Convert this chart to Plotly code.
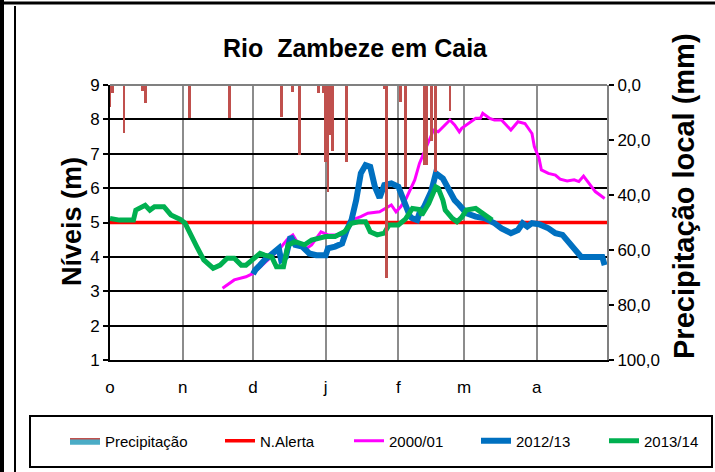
import plotly.graph_objects as go

# ---------------- data ----------------
month_ticks = ["2012-10-01", "2012-11-01", "2012-12-01", "2013-01-01",
               "2013-02-01", "2013-03-01", "2013-04-01"]
month_labels = ["o", "n", "d", "j", "f", "m", "a"]

level_ticks = [1, 2, 3, 4, 5, 6, 7, 8, 9]
precip_ticks = [0, 20, 40, 60, 80, 100]
precip_tick_labels = ["0,0", "20,0", "40,0", "60,0", "80,0", "100,0"]

precip_dates = ["2012-10-01", "2012-10-02", "2012-10-07", "2012-10-15", "2012-10-16",
                "2012-11-04", "2012-11-21", "2012-12-13", "2012-12-18", "2012-12-21",
                "2012-12-29", "2012-12-31", "2013-01-01", "2013-01-02", "2013-01-03",
                "2013-01-04", "2013-01-10", "2013-01-26", "2013-01-27", "2013-02-02",
                "2013-02-04", "2013-02-12", "2013-02-13", "2013-02-15", "2013-02-17",
                "2013-02-23"]
precip_mm = [8, 3, 17.5, 2, 6.5,
             12, 12, 11.5, 2.5, 25.5,
             3, 3, 28, 39, 18,
             24, 28, 1.5, 70, 6,
             37, 29, 29, 20.5, 31.5,
             9.5]

alert_dates = ["2012-10-01", "2013-05-01"]
alert_level = [5, 5]

s2000_dates = ["2012-11-18", "2012-11-23", "2012-11-28", "2012-12-01", "2012-12-04",
               "2012-12-08", "2012-12-12", "2012-12-16", "2012-12-18", "2012-12-21",
               "2012-12-23", "2012-12-26", "2012-12-30", "2013-01-02", "2013-01-06",
               "2013-01-09", "2013-01-12", "2013-01-16", "2013-01-19", "2013-01-24",
               "2013-01-29", "2013-01-31", "2013-02-02", "2013-02-04", "2013-02-06",
               "2013-02-08", "2013-02-10", "2013-02-12", "2013-02-14", "2013-02-16",
               "2013-02-18", "2013-02-21", "2013-02-23", "2013-02-25", "2013-02-27",
               "2013-02-28", "2013-03-03", "2013-03-06", "2013-03-08", "2013-03-09",
               "2013-03-12", "2013-03-14", "2013-03-17", "2013-03-21", "2013-03-24",
               "2013-03-27", "2013-03-30", "2013-03-31", "2013-04-02", "2013-04-03",
               "2013-04-06", "2013-04-09", "2013-04-11", "2013-04-14", "2013-04-17",
               "2013-04-19", "2013-04-21", "2013-04-24", "2013-04-26", "2013-04-30"]
s2000_level = [3.09, 3.33, 3.42, 3.52, 3.70,
               3.95, 4.20, 4.54, 4.64, 4.30,
               4.20, 4.35, 4.73, 4.64, 4.64,
               4.59, 5.07, 5.17, 5.27, 5.31,
               5.51, 5.31, 5.46, 5.65, 5.94,
               6.24, 6.72, 7.06, 7.40, 7.69,
               7.64, 7.84, 7.98, 7.84, 7.64,
               7.74, 7.88, 8.03, 8.03, 8.18,
               8.03, 7.98, 7.98, 7.69, 7.93,
               7.88, 7.59, 7.21, 6.87, 6.53,
               6.43, 6.38, 6.26, 6.21, 6.24,
               6.19, 6.35, 6.09, 5.90, 5.70]

s2012_dates = ["2012-12-01", "2012-12-02", "2012-12-04", "2012-12-06", "2012-12-12",
               "2012-12-13", "2012-12-15", "2012-12-17", "2012-12-19", "2012-12-22",
               "2012-12-25", "2012-12-28", "2013-01-01", "2013-01-02", "2013-01-05",
               "2013-01-08", "2013-01-10", "2013-01-12", "2013-01-14", "2013-01-16",
               "2013-01-18", "2013-01-20", "2013-01-22", "2013-01-24", "2013-01-26",
               "2013-01-29", "2013-02-01", "2013-02-03", "2013-02-05", "2013-02-06",
               "2013-02-07", "2013-02-09", "2013-02-10", "2013-02-12", "2013-02-15",
               "2013-02-17", "2013-02-20", "2013-02-23", "2013-02-25", "2013-02-27",
               "2013-03-02", "2013-03-06", "2013-03-10", "2013-03-14", "2013-03-17",
               "2013-03-21", "2013-03-24", "2013-03-26", "2013-03-28", "2013-03-30",
               "2013-04-02", "2013-04-06", "2013-04-09", "2013-04-12", "2013-04-15",
               "2013-04-17", "2013-04-20", "2013-04-24", "2013-04-29", "2013-04-30"]
s2012_level = [3.50, 3.62, 3.76, 3.91, 4.25,
               3.91, 4.00, 4.59, 4.35, 4.30,
               4.10, 4.05, 4.05, 4.25, 4.30,
               4.39, 4.78, 5.07, 5.65, 6.43,
               6.67, 6.62, 6.04, 5.72, 6.09,
               6.14, 6.04, 5.65, 5.27, 5.17,
               5.12, 5.07, 5.27, 5.46, 5.90,
               6.43, 6.28, 5.90, 5.65, 5.51,
               5.27, 5.17, 5.12, 4.98, 4.83,
               4.69, 4.78, 4.98, 4.88, 4.98,
               4.95, 4.83, 4.69, 4.64, 4.39,
               4.20, 4.00, 4.00, 4.00, 3.76]

s2013_dates = ["2012-10-01", "2012-10-05", "2012-10-11", "2012-10-12", "2012-10-16",
               "2012-10-18", "2012-10-20", "2012-10-24", "2012-10-27", "2012-10-31",
               "2012-11-02", "2012-11-04", "2012-11-07", "2012-11-10", "2012-11-14",
               "2012-11-17", "2012-11-20", "2012-11-23", "2012-11-26", "2012-11-28",
               "2012-12-01", "2012-12-04", "2012-12-06", "2012-12-09", "2012-12-11",
               "2012-12-14", "2012-12-16", "2012-12-19", "2012-12-23", "2012-12-26",
               "2013-01-01", "2013-01-05", "2013-01-09", "2013-01-12", "2013-01-15",
               "2013-01-18", "2013-01-20", "2013-01-23", "2013-01-26", "2013-01-28",
               "2013-02-01", "2013-02-04", "2013-02-07", "2013-02-10", "2013-02-11",
               "2013-02-14", "2013-02-17", "2013-02-18", "2013-02-20", "2013-02-21",
               "2013-02-24", "2013-02-26", "2013-02-28", "2013-03-02", "2013-03-06",
               "2013-03-09", "2013-03-12", "2013-03-13"]
s2013_level = [5.12, 5.07, 5.07, 5.36, 5.50,
               5.36, 5.46, 5.46, 5.22, 5.09,
               4.98, 4.69, 4.30, 3.91, 3.67,
               3.76, 3.96, 3.96, 3.76, 3.76,
               3.91, 4.10, 4.05, 4.00, 3.71,
               3.71, 4.35, 4.44, 4.35, 4.49,
               4.59, 4.59, 4.73, 4.98, 5.02,
               5.02, 4.73, 4.64, 4.69, 4.93,
               4.93, 5.10, 5.41, 5.38, 5.22,
               5.56, 6.04, 6.00, 5.65, 5.36,
               5.12, 5.02, 5.15, 5.36, 5.41,
               5.27, 5.12, 5.07]

# ---------------- layout helpers (pixel -> paper) ----------------
W, H = 715, 472
L, R, T, B = 110, 607, 85, 360


def px(xp):
    return (xp - L) / (R - L)


def py(yp):
    return (B - yp) / (B - T)


FONT = "Arial, Liberation Sans, sans-serif"
DAY_MS = 86400000

fig = go.Figure()

# legend-only symbol for precipitation
fig.add_trace(go.Scatter(
    x=[None], y=[None], name="Precipitação", mode="lines",
    fill="toself", fillcolor="#4BACC6",
    line=dict(color="#C0504D", width=1.5), yaxis="y2", legend="legend"))

fig.add_trace(go.Bar(
    x=precip_dates, y=precip_mm, yaxis="y2", name="Precipitação",
    showlegend=False, width=1.2 * DAY_MS,
    marker=dict(color="#C0504D", line=dict(width=0))))

fig.add_trace(go.Scatter(x=alert_dates, y=alert_level, name="N.Alerta",
                         mode="lines", line=dict(color="#FF0000", width=3.5),
                         legend="legend2"))
fig.add_trace(go.Scatter(x=s2000_dates, y=s2000_level, name="2000/01",
                         mode="lines", line=dict(color="#FF00FF", width=3),
                         legend="legend3"))
fig.add_trace(go.Scatter(x=s2012_dates, y=s2012_level, name="2012/13",
                         mode="lines", line=dict(color="#0070C0", width=6),
                         legend="legend4"))
fig.add_trace(go.Scatter(x=s2013_dates, y=s2013_level, name="2013/14",
                         mode="lines", line=dict(color="#00B050", width=5),
                         legend="legend5"))


def pline(x0, y0, x1, y1, color="black", width=2):
    return dict(type="line", xref="paper", yref="paper",
                x0=px(x0), x1=px(x1), y0=py(y0), y1=py(y1),
                line=dict(color=color, width=width))


shapes = [
    # outer frame
    pline(2, 0, 2, 472, width=4),
    pline(0, 3, 715, 3, width=3),
    pline(15, 6, 15, 472, width=2),
    # legend box
    dict(type="rect", xref="paper", yref="paper",
         x0=px(30), x1=px(712), y0=py(416), y1=py(467),
         line=dict(color="black", width=2)),
    # top border of plot area
    pline(L, T, R, T, color="#808080", width=2),
]

annotations = [
    dict(text="<b>Níveis (m)</b>", x=px(55), y=py(222), xref="paper", yref="paper",
         textangle=-90, showarrow=False, font=dict(family=FONT, size=27, color="black")),
    dict(text="<b>Precipitação local (mm)</b>", x=px(702), y=py(196), xref="paper",
         yref="paper", textangle=-90, showarrow=False,
         font=dict(family=FONT, size=29, color="black")),
]


def legend_at(x_origin):
    return dict(orientation="h", yanchor="middle", xanchor="left",
                x=px(x_origin), y=py(441),
                font=dict(family=FONT, size=15, color="black"),
                bgcolor="rgba(0,0,0,0)", borderwidth=0)


fig.update_layout(
    width=W, height=H,
    margin=dict(l=L, r=W - R, t=T, b=H - B, autoexpand=False),
    paper_bgcolor="white", plot_bgcolor="white",
    title=dict(text="<b>Rio\u00a0 Zambeze em Caia</b>", x=355 / W, xanchor="center",
               y=1 - 48 / H, yanchor="middle",
               font=dict(family=FONT, size=25, color="black")),
    font=dict(family=FONT, size=17, color="black"),
    showlegend=True,
    legend=legend_at(65),
    legend2=legend_at(220),
    legend3=legend_at(349),
    legend4=legend_at(476),
    legend5=legend_at(604),
    bargap=0,
    xaxis=dict(type="date", range=["2012-10-01", "2013-05-01"],
               tickvals=month_ticks, ticktext=month_labels,
               ticks="outside", ticklen=11, tickcolor="rgba(0,0,0,0)",
               showgrid=True, gridcolor="#8C8C8C", gridwidth=2,
               showline=True, linecolor="black", linewidth=2,
               tickfont=dict(family=FONT, size=17, color="black"),
               zeroline=False),
    yaxis=dict(range=[1, 9], tickvals=level_ticks, showgrid=True,
               gridcolor="black", gridwidth=2, showline=True, linecolor="black",
               linewidth=2, ticks="outside", ticklen=5, tickcolor="black",
               tickwidth=1.5, zeroline=False,
               tickfont=dict(family=FONT, size=17, color="black")),
    yaxis2=dict(overlaying="y", side="right", range=[100, 0],
                tickvals=precip_ticks, ticktext=precip_tick_labels,
                showgrid=False, showline=True, linecolor="#808080", linewidth=2,
                ticks="outside", ticklen=5, tickcolor="black", tickwidth=1.5,
                zeroline=False,
                tickfont=dict(family=FONT, size=17, color="black")),
    shapes=shapes,
    annotations=annotations,
)

fig.write_html("out.html",
               config={"displayModeBar": False},
               post_script="document.body.style.margin='0px';"
                           "document.body.style.overflow='hidden';")
